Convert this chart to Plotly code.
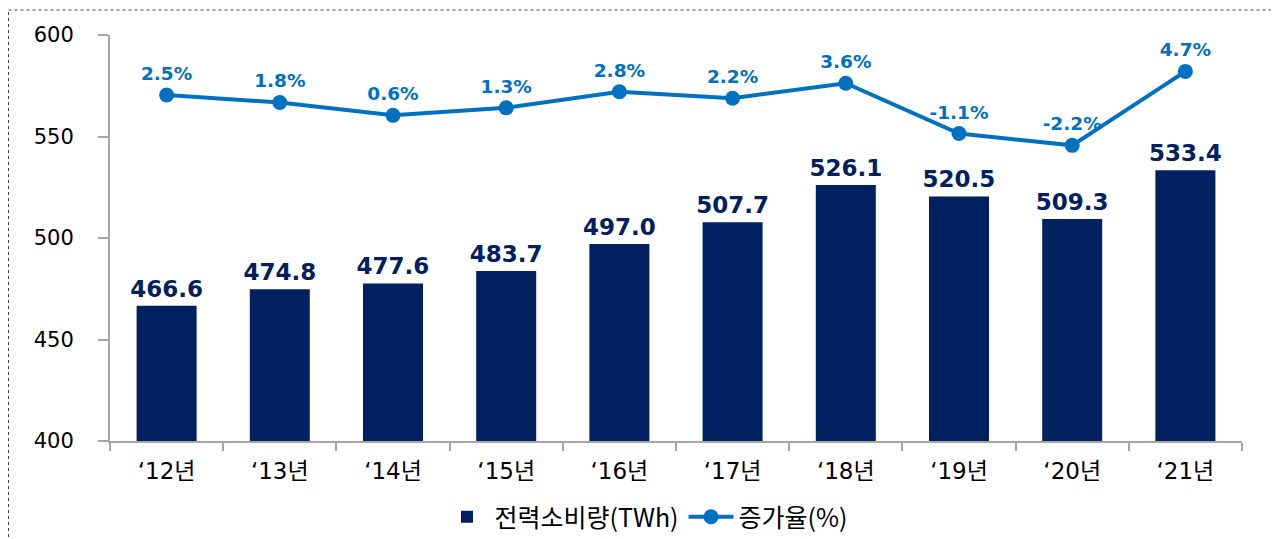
import plotly.graph_objects as go

years = ["‘12년", "‘13년", "‘14년", "‘15년", "‘16년", "‘17년", "‘18년", "‘19년", "‘20년", "‘21년"]
consumption = [466.6, 474.8, 477.6, 483.7, 497.0, 507.7, 526.1, 520.5, 509.3, 533.4]
growth = [2.5, 1.8, 0.6, 1.3, 2.8, 2.2, 3.6, -1.1, -2.2, 4.7]
y_ticks = [400, 450, 500, 550, 600]

NAVY = "#002060"
BLUE = "#0070C0"
FONT = "DejaVu Sans, Noto Sans CJK KR, sans-serif"
KFONT = "Noto Sans CJK KR, DejaVu Sans, sans-serif"

# page body has an 8px margin; work in screen coordinates and convert
OFF = 8
W, H = 1279 - OFF, 539 - OFF
L, R, T, B = 110 - OFF, 37, 35 - OFF, 98
pw, ph = W - L - R, H - T - B

def px(x):
    return (x - OFF - L) / pw

def py(y):
    return (H - B - (y - OFF)) / ph

fig = go.Figure()
fig.add_trace(go.Bar(
    x=years, y=consumption, name="전력소비량(TWh)",
    marker=dict(color=NAVY, line=dict(width=0)),
    hoverinfo="x+y",
))
# bar value labels
fig.add_trace(go.Scatter(
    x=years, y=consumption, mode="markers+text", showlegend=False, hoverinfo="skip",
    marker=dict(size=4, opacity=0),
    text=[f"{v:.1f}" for v in consumption], textposition="top center",
    textfont=dict(family=FONT, size=23, color=NAVY, weight="bold"),
    cliponaxis=False,
))
fig.add_trace(go.Scatter(
    x=years, y=growth, name="증가율(%)", yaxis="y2",
    mode="lines+markers+text",
    line=dict(color=BLUE, width=4),
    marker=dict(color=BLUE, size=15),
    text=[f"{v:.1f}%" for v in growth], textposition="top center",
    textfont=dict(family=FONT, size=18.5, color=BLUE, weight="bold"),
    cliponaxis=False,
))

fig.update_layout(
    width=W, height=H,
    margin=dict(l=L, r=R, t=T, b=B, autoexpand=False),
    paper_bgcolor="white", plot_bgcolor="white",
    bargap=0.47,
    showlegend=True,
    legend=dict(orientation="h", x=px(646), xanchor="center", y=py(517), yanchor="middle",
                font=dict(family=KFONT, size=25, color="black"), itemwidth=45,
                traceorder="normal"),
    xaxis=dict(type="category", range=[-0.5, len(years) - 0.5], showline=True,
               linecolor="#A6A6A6", linewidth=2,
               ticks="outside", tickson="boundaries", ticklen=8, tickcolor="#A6A6A6", tickwidth=2,
               ticklabelstandoff=8,
               tickfont=dict(family=FONT, size=23, color="black"), showgrid=False),
    yaxis=dict(range=[400, 600], tickvals=y_ticks, showline=True, linecolor="#A6A6A6", linewidth=2,
               ticks="outside", ticklen=10, tickcolor="#A6A6A6", tickwidth=2, ticklabelstandoff=20,
               tickfont=dict(family=FONT, size=21, color="black"), showgrid=False, zeroline=False),
    yaxis2=dict(range=[-29.8, 8.1], overlaying="y", side="right", visible=False, showgrid=False),
    shapes=[dict(type="rect", xref="paper", yref="paper",
                 x0=px(8.5), x1=px(1276), y0=py(10), y1=py(560),
                 line=dict(color="#404040", width=1, dash="dot"), layer="below")],
)

fig.write_html("out.html")
